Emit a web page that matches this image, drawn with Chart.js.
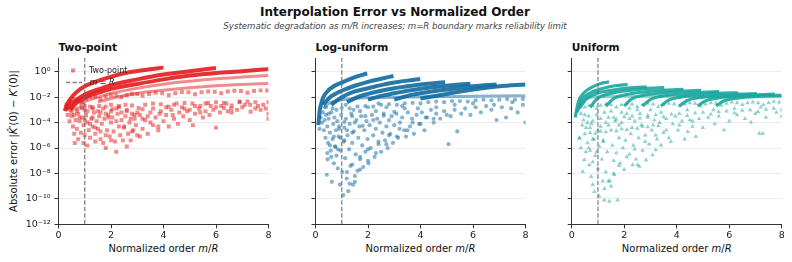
<!DOCTYPE html>
<html>
<head>
<meta charset="utf-8">
<script src="https://cdn.jsdelivr.net/npm/chart.js@4.4.1/dist/chart.umd.min.js"></script>
<style>
  body { margin: 0; background: #fff; font-family: "DejaVu Sans", sans-serif; }
  #wrap { position: relative; width: 792px; height: 262px; overflow: hidden; background: #fff; }
  canvas { position: absolute; left: 0; top: 0; }
  .txt { position: absolute; white-space: nowrap; color: #111; line-height: 1; }
  #title { left: 395px; top: 6px; transform: translateX(-50%); font-weight: bold; font-size: 12px; }
  #subtitle { left: 395px; top: 22px; transform: translateX(-50%); font-style: italic; font-size: 8.6px; color: #444; }
  .ptitle { top: 42px; font-weight: bold; font-size: 10.6px; }
  .xlab { top: 244px; transform: translateX(-50%); font-size: 10px; }
  #ylab { left: 14px; top: 141px; transform: translate(-50%, -50%) rotate(-90deg); font-size: 10px; }
</style>
</head>
<body>
<div id="wrap">
  <div class="txt" id="title">Interpolation Error vs Normalized Order</div>
  <div class="txt" id="subtitle">Systematic degradation as m/R increases; m=R boundary marks reliability limit</div>
  <div class="txt ptitle" id="pt0" style="left:58.5px"></div>
  <div class="txt ptitle" id="pt1" style="left:315.5px"></div>
  <div class="txt ptitle" id="pt2" style="left:571.7px"></div>
  <div class="txt xlab" style="left:163.5px">Normalized order <i>m</i>/<i>R</i></div>
  <div class="txt xlab" style="left:420.5px">Normalized order <i>m</i>/<i>R</i></div>
  <div class="txt xlab" style="left:676.7px">Normalized order <i>m</i>/<i>R</i></div>
  <div class="txt" id="ylab">Absolute error |<i>K&#770;</i>&#8242;(0) &#8722; <i>K</i>&#8242;(0)|</div>
  <canvas id="c0" width="792" height="262"></canvas>
  <canvas id="c1" width="792" height="262"></canvas>
  <canvas id="c2" width="792" height="262"></canvas>
</div>
<script>
const panelTitles = ['Two-point', 'Log-uniform', 'Uniform'];
const xTicks = [0, 2, 4, 6, 8];
const yTicks = [1e-12, 1e-10, 1e-8, 1e-6, 1e-4, 1e-2, 1];
const yTickLabels = ['10⁻¹²', '10⁻¹⁰', '10⁻⁸', '10⁻⁶', '10⁻⁴', '10⁻²', '10⁰'];
const boundaryX = 1; // m = R
const yMin = 1e-12;
const yMax = 12;

// ---- Two-point ----
const twoPointArcs = [
    [[0.24,7.9e-4],[0.3,2e-3],[0.4,5e-3],[0.55,1.3e-2],[0.75,3.2e-2],[1.0,7.1e-2],[1.4,0.16],[2.0,0.4],[2.5,0.76],[3.2,1.3],[4.0,2.1]],
    [[0.3,1e-3],[0.4,2e-3],[0.6,4.5e-3],[1.0,1.6e-2],[1.5,4e-2],[2.0,8.9e-2],[3.0,0.25],[4.0,0.6],[5.0,1.1],[6.0,2.0]],
    [[0.45,1e-3],[0.6,2.5e-3],[1.0,8.9e-3],[1.5,2.2e-2],[2.0,4.5e-2],[3.0,0.11],[4.0,0.25],[5.0,0.5],[6.0,0.8],[7.0,1.1],[8.0,1.6]]
];
const twoPointBands = [
    [[0.8,2.5e-3],[1.0,4.5e-3],[1.5,1e-2],[2.0,2e-2],[3.0,5e-2],[4.0,0.105],[5.0,0.18],[6.0,0.28],[7.0,0.38],[8.0,0.5]],
    [[1.5,4e-3],[2.0,7.9e-3],[3.0,2e-2],[4.0,3.5e-2],[5.0,5.6e-2],[6.0,7.9e-2],[7.0,0.1],[8.0,0.12]]
];
const twoPointRows = [
    [0.3,2.5e-3],[0.45,5e-3],[0.6,7.1e-3],[0.75,6.3e-3],[0.9,4e-3],[1.05,7.9e-3],[1.2,1.1e-2],[1.4,1.1e-2],[1.6,7.1e-3],[1.8,1.1e-2],
    [2.0,1.4e-2],[2.2,1.4e-2],[2.4,1e-2],[2.6,1.4e-2],[2.8,1.8e-2],[3.0,1.8e-2],[3.2,1.3e-2],[3.45,1.8e-2],[3.7,2.2e-2],[3.95,2e-2],
    [4.2,1.4e-2],[4.45,2e-2],[4.7,2.5e-2],[4.95,2.4e-2],[5.2,1.7e-2],[5.45,2.4e-2],[5.7,2.8e-2],[5.95,2.7e-2],[6.2,2e-2],[6.45,2.75e-2],
    [6.7,3.2e-2],[6.95,3e-2],[7.2,2.2e-2],[7.45,3e-2],[7.7,3.4e-2],[7.95,3.3e-2],
    [0.5,6.3e-4],[0.7,1.3e-3],[0.9,1.4e-3],[1.1,7.9e-4],[1.3,1.6e-3],[1.55,2e-3],[1.8,1.8e-3],[2.05,1.1e-3],[2.3,2e-3],[2.55,2.5e-3],
    [2.8,2.2e-3],[3.05,1.4e-3],[3.3,2.5e-3],[3.6,3.2e-3],[3.9,2.8e-3],[4.2,1.8e-3],[4.5,3.2e-3],[4.8,3.5e-3],[5.1,3.2e-3],[5.4,2e-3],
    [5.7,3.5e-3],[6.0,4e-3],[6.3,3.5e-3],[6.6,2.2e-3],[6.9,4e-3],[7.2,4.5e-3],[7.5,4e-3],[7.8,2.5e-3],[8.0,4e-3]
];
const twoPointScatter = [
    [0.35,4e-4],[0.42,1.26e-4],[0.5,3.2e-4],[0.55,5e-5],[0.62,2.5e-6],[0.65,1.6e-4],[0.7,3.2e-5],[0.75,5e-4],[0.8,1.3e-4],[0.85,1.6e-5],
    [0.9,2.5e-4],[0.95,6.3e-5],[1.0,1e-5],[1.05,4e-4],[1.1,1e-4],[1.15,2.5e-5],[1.2,6.3e-6],[1.25,2e-4],[1.3,5e-5],[1.35,6.3e-4],
    [1.4,1.3e-5],[1.45,1.3e-4],[1.5,3.2e-5],[1.55,3.2e-4],[1.6,5e-6],[1.65,7.9e-5],[1.7,2.5e-6],[1.75,2e-4],[1.8,1e-6],[1.85,2.5e-5],
    [1.9,4e-4],[1.95,7.9e-6],[2.0,1e-4],[2.05,2.5e-4],[2.1,2e-5],[2.15,3.2e-6],[2.2,5e-7],[2.25,5e-4],[2.3,5e-5],[2.35,1e-5],
    [2.4,1.6e-4],[2.45,4e-6],[2.5,4e-5],[2.55,3.2e-4],[2.6,1.3e-6],[2.65,1.3e-5],[2.7,1e-4],[2.75,4e-6],[2.8,5e-4],[2.85,2.5e-5],
    [2.9,2e-4],[2.95,6.3e-5],[3.0,1e-5],[3.1,4e-4],[3.2,3.2e-5],[3.3,1.6e-4],[3.4,1.3e-5],[3.5,6.3e-4],[3.6,6.3e-5],[3.7,2.5e-4],
    [3.8,2.5e-5],[3.9,7.9e-4],[4.0,1.3e-4],[4.1,4e-4],[4.2,5e-5],[4.3,1e-3],[4.4,2e-4],[4.55,7.9e-5],[4.6,6.3e-4],[4.75,3.2e-4],
    [4.9,7.9e-4],[5.0,1.6e-4],[5.12,6.3e-5],[5.2,5e-4],[5.35,1.3e-3],[5.5,2.5e-4],[5.6,7.9e-4],[5.75,4e-4],[5.9,1e-3],[6.0,4e-5],
    [6.15,6.3e-4],[6.3,1.4e-3],[6.45,7.9e-4],[6.58,1.3e-3],[6.8,1e-3],[7.0,1.6e-3],[7.32,7.2e-4],[7.5,1.3e-3],[7.7,1e-3],[8.0,5e-4],
    [8.0,2e-4],[0.55,1.3e-3],[0.7,7.9e-4],[0.85,1.6e-3],[1.0,1e-3],[1.2,1.8e-3],[1.3,2.5e-4],[1.5,7.9e-4],[1.7,1.3e-3],[1.8,5e-4],
    [2.0,7.9e-4],[2.2,1.3e-3],[2.4,6.3e-4],[2.6,1e-3],[2.75,2e-4],[3.0,6.3e-4],[3.2,1.1e-3],[3.4,3.2e-4],[3.6,1.3e-3],[3.85,5e-4],
    [4.1,1.6e-3],[4.35,4e-4],[4.7,1.6e-3],[5.0,1e-3],[5.4,6.3e-4],[5.8,2e-3],[6.2,2e-3],[6.6,6.3e-4],[7.1,2.5e-3],[7.6,2e-3],[7.9,1.3e-3],
    [0.6,4e-4],[0.8,2.5e-4],[1.0,1.6e-4],[1.2,7.9e-5],[1.4,4e-5],[1.6,2e-5],[1.8,1e-5],[2.0,4e-6],
    [1.0,2e-3],[1.3,1.3e-3],[1.6,6.3e-4],[1.9,2.5e-4],[2.2,1.3e-4],[2.5,5e-5],[2.8,2e-5],[3.1,7.9e-6],
    [2.0,2.5e-3],[2.3,1.6e-3],[2.6,7.9e-4],[2.9,4e-4],[3.2,2e-4],[3.5,1e-4],[3.8,5e-5],
    [0.45,1e-3],[0.6,1.3e-5],[0.75,5e-6],[0.95,2.5e-6],[1.1,1.6e-6],[1.4,3.2e-6],
    [4.4,2.5e-3],[4.8,1.3e-3],[5.2,2e-3],[5.6,3.2e-3],[6.0,1.6e-3],[6.4,3.2e-3],[6.9,4.5e-3],[7.3,2.5e-3]
];

// ---- Log-uniform ----
const logUniformArcs = [
    [[0.11,6.3e-5],[0.15,6.3e-4],[0.22,3.2e-3],[0.3,1e-2],[0.45,2.8e-2],[0.65,6.3e-2],[1.0,0.14],[1.4,0.32],[1.97,0.74]],
    [[0.3,2.5e-3],[0.5,7.9e-3],[0.75,1.8e-2],[1.0,3.2e-2],[1.5,7.9e-2],[2.0,0.16],[2.5,0.28],[2.97,0.46]],
    [[0.6,2.5e-3],[1.0,1e-2],[1.5,2.8e-2],[2.0,5e-2],[2.5,8.9e-2],[3.0,0.14],[3.5,0.2],[3.99,0.27]],
    [[1.2,4e-3],[1.6,1e-2],[2.0,1.8e-2],[2.5,3.2e-2],[3.0,5e-2],[3.5,7.1e-2],[4.0,0.1],[4.5,0.126],[4.94,0.15]],
    [[2.0,6.3e-3],[2.5,1.26e-2],[3.0,2e-2],[3.5,3.2e-2],[4.0,4.5e-2],[4.5,6.3e-2],[5.0,7.9e-2],[5.5,0.1],[5.9,0.11]],
    [[3.0,6.3e-3],[3.5,1.26e-2],[4.0,2e-2],[5.0,4e-2],[6.0,7.1e-2],[6.9,0.1]],
    [[4.0,7.9e-3],[5.0,1.8e-2],[6.0,4e-2],[7.0,7.1e-2],[8.0,0.1]]
];
const logUniformBands = [
    [[0.3,1.3e-3],[0.5,3.2e-3],[1.0,6.3e-3],[1.5,7.9e-3],[2.0,8.9e-3],[3.0,1e-2],[4.0,1.05e-2],[5.0,1.1e-2],[6.0,1.2e-2],[7.0,1.26e-2],[8.0,1.3e-2]]
];
const logUniformRows = [
    [0.5,5e-4],[0.8,1e-3],[1.0,1.4e-3],[1.3,1.3e-3],[1.6,1.8e-3],[1.9,2e-3],[2.2,1.8e-3],[2.5,2.5e-3],[2.8,2.8e-3],[3.1,2.5e-3],
    [3.4,3.2e-3],[3.7,3.5e-3],[4.0,3.2e-3],[4.3,4e-3],[4.6,4.5e-3],[4.9,4e-3],[5.2,5e-3],[5.5,5e-3],[5.8,4.5e-3],[6.1,5.6e-3],
    [6.4,6.3e-3],[6.7,5.6e-3],[7.0,6.3e-3],[7.3,7.1e-3],[7.6,6.3e-3],[7.9,7.1e-3]
];
const logUniformScatter = [
    [0.15,3.2e-5],[0.2,2.5e-4],[0.25,1e-4],[0.28,6.3e-4],[0.32,2.5e-5],[0.35,1.6e-4],[0.38,6.3e-6],[0.4,4e-4],[0.43,7.9e-9],[0.45,5e-5],
    [0.46,1.3e-7],[0.48,2.5e-6],[0.5,2e-4],[0.55,1.6e-5],[0.58,6.3e-7],[0.6,6.3e-4],[0.62,2.2e-9],[0.65,5e-6],[0.68,7.9e-5],[0.7,6.3e-8],
    [0.72,2.5e-4],[0.75,1.3e-6],[0.78,2.5e-5],[0.8,2.5e-7],[0.83,1.3e-4],[0.85,2.5e-8],[0.88,7.9e-6],[0.9,5e-5],[0.93,1.3e-9],[0.95,6.3e-7],
    [0.98,4e-4],[1.02,1.3e-8],[1.06,2e-10],[1.08,3.2e-6],[1.1,4e-5],[1.13,1.6e-7],[1.16,2e-4],[1.19,4e-9],[1.22,1e-5],[1.25,4e-10],
    [1.28,7.9e-7],[1.3,7.9e-5],[1.33,4e-8],[1.36,5e-4],[1.4,2.5e-6],[1.43,1.3e-9],[1.46,2e-5],[1.5,2.2e-9],[1.53,3.2e-7],[1.56,1.6e-4],
    [1.6,1.6e-8],[1.63,6.3e-6],[1.67,5e-5],[1.7,1.3e-7],[1.74,3.2e-4],[1.78,1.6e-6],[1.82,3.2e-8],[1.86,2.5e-5],[1.9,5e-7],[1.94,1.3e-4],
    [1.98,5e-6],[2.02,6.3e-8],[2.06,6.3e-5],[2.1,1e-6],[2.15,4e-4],[2.2,1e-5],[2.25,2e-7],[2.3,3.2e-5],[2.35,2e-4],[2.4,2e-6],
    [2.45,1e-4],[2.5,5e-7],[2.55,1.6e-5],[2.6,5e-4],[2.65,4e-6],[2.7,5e-5],[2.75,1e-6],[2.8,1.6e-4],[2.85,1.3e-5],[2.9,3.2e-4],
    [2.95,2.5e-6],[3.0,6.3e-5],[3.08,5e-4],[3.15,6.3e-6],[3.22,1e-4],[3.3,2.5e-4],[3.38,2.5e-5],[3.45,7.9e-6],[3.52,6.3e-4],[3.6,5e-5],
    [3.68,2e-4],[3.75,1.3e-5],[3.85,4e-4],[3.95,7.9e-5],[4.05,6.3e-4],[4.15,2.5e-5],[4.25,2.5e-4],[4.4,1e-3],[4.5,1e-4],[4.6,5e-4],
    [4.75,2e-4],[4.9,7.9e-4],[5.07,2e-6],[5.15,3.2e-4],[5.3,1e-3],[5.4,2e-5],[5.55,5e-4],[5.7,1.3e-3],[5.9,4e-4],[6.1,1.6e-3],
    [6.3,6.3e-4],[6.5,2e-3],[6.7,1e-3],[6.9,1.6e-4],[7.1,1.6e-3],[7.26,2.5e-4],[7.45,1.3e-3],[7.7,6.3e-4],[7.9,2.5e-3],[8.0,1e-4],
    [3.4,1.3e-3],[3.0,7.1e-4],[2.6,3.5e-4],[2.2,1.6e-4],[1.8,5.6e-5],[1.4,1.6e-5],[1.1,4e-6],[0.85,7.9e-7],
    [2.7,1.6e-3],[2.3,7.9e-4],[1.9,3.2e-4],[1.5,1e-4],[1.2,2.5e-5],[0.95,6.3e-6],[0.75,1.3e-6],[0.6,2e-7],
    [4.2,2.5e-4],[3.7,1e-4],[3.2,3.2e-5],[2.8,1e-5],[2.4,3.2e-6],[2.0,7.9e-7],[1.7,2e-7],[1.4,5e-8],[1.2,1.3e-8],
    [2.0,1.6e-3],[1.7,7.9e-4],[1.4,3.2e-4],[1.1,1.1e-4],[0.9,3.2e-5],[0.7,7.9e-6],[0.55,1.6e-6],[0.45,4e-7],
    [5.0,4e-4],[4.5,2e-4],[4.0,7.9e-5],[3.5,2.5e-5],[3.1,7.9e-6],[2.7,2e-6],[2.3,4e-7],[2.0,1e-7],[1.7,2e-8],[1.5,6.3e-9],[1.3,1.6e-9],
    [0.4,1.6e-3],[0.65,1.3e-3],[1.15,2.5e-3],[1.45,1e-3],[2.4,3.2e-3],[3.3,2e-3],[3.9,1.3e-3],[4.6,1.6e-3],[5.3,2.5e-3],[6.0,3.2e-3],
    [6.8,2.5e-3],[7.5,4e-3]
];

// ---- Uniform ----
const uniformArcs = [
    [[0.13,2.5e-4],[0.26,4.6e-3],[0.45,2e-2],[0.78,6.2e-2],[1.1,0.12],[1.42,0.16]],
    [[0.2,6.3e-4],[0.39,6.2e-3],[0.68,2e-2],[1.17,4.8e-2],[1.65,7.9e-2],[2.13,0.1]],
    [[0.3,1.3e-3],[0.56,7.4e-3],[0.94,1.9e-2],[1.58,3.6e-2],[2.22,5.4e-2],[2.86,6.6e-2]],
    [[0.7,1.6e-3],[0.98,7.9e-3],[1.41,1.8e-2],[2.12,3.3e-2],[2.82,4.7e-2],[3.53,5.6e-2]],
    [[1.3,2e-3],[1.6,7.8e-3],[2.04,1.55e-2],[2.78,2.6e-2],[3.52,3.5e-2],[4.26,4.1e-2]],
    [[2.0,2e-3],[2.29,7.2e-3],[2.73,1.4e-2],[3.47,2.2e-2],[4.2,3e-2],[4.93,3.5e-2]],
    [[2.7,2e-3],[2.99,6.5e-3],[3.43,1.2e-2],[4.16,1.8e-2],[4.89,2.3e-2],[5.62,2.7e-2]],
    [[3.4,2e-3],[3.69,5.9e-3],[4.13,1e-2],[4.87,1.55e-2],[5.6,2e-2],[6.33,2.2e-2]],
    [[4.1,2e-3],[4.4,5.5e-3],[4.84,9.1e-3],[5.58,1.3e-2],[6.31,1.7e-2],[7.05,1.9e-2]],
    [[4.8,2e-3],[5.09,5.1e-3],[5.53,8.5e-3],[6.27,1.2e-2],[7.0,1.5e-2],[7.74,1.7e-2]],
    [[5.5,2e-3],[5.79,5e-3],[6.2,7.9e-3],[6.9,1.1e-2],[7.5,1.3e-2],[8.0,1.4e-2]]
];
const uniformBands = [
    [[0.3,2.5e-3],[0.6,7.9e-3],[1.0,1.1e-2],[2.0,1.2e-2],[3.0,1.2e-2],[4.0,1.17e-2],[5.0,1.1e-2],[6.0,1.1e-2],[7.0,1.07e-2],[8.0,1.07e-2]]
];
const uniformRows = [
    [0.35,5e-4],[0.5,1.6e-3],[0.65,2.2e-3],[0.8,2e-3],[0.95,1.3e-3],[1.1,2.2e-3],[1.3,2.8e-3],[1.5,2.5e-3],[1.7,1.6e-3],[1.9,2.5e-3],
    [2.1,3.2e-3],[2.3,2.8e-3],[2.5,1.8e-3],[2.7,2.5e-3],[2.9,3.2e-3],[3.1,2.8e-3],[3.3,1.8e-3],[3.5,2.5e-3],[3.7,3.2e-3],[3.9,2.8e-3],
    [4.1,2e-3],[4.3,2.8e-3],[4.5,3.5e-3],[4.7,3.2e-3],[4.9,2e-3],[5.1,2.8e-3],[5.3,3.5e-3],[5.5,3.2e-3],[5.7,2.2e-3],[5.9,3.2e-3],
    [6.1,4e-3],[6.3,3.5e-3],[6.5,2.5e-3],[6.7,3.5e-3],[6.9,4e-3],[7.1,3.5e-3],[7.3,2.5e-3],[7.5,3.5e-3],[7.7,4.5e-3],[7.9,4e-3],
    [0.8,1.3e-4],[1.1,2e-4],[1.4,2.5e-4],[1.7,1.8e-4],[2.0,2.8e-4],[2.3,3.2e-4],[2.6,2.2e-4],[2.9,3.5e-4],[3.2,4e-4],[3.5,2.8e-4],
    [3.8,4.5e-4],[4.1,5e-4],[4.4,3.5e-4],[4.7,5.6e-4],[5.0,6.3e-4],[5.3,4.5e-4],[5.6,7.1e-4],[5.9,7.9e-4],[6.2,5.6e-4],[6.5,8.9e-4],
    [6.8,1e-3],[7.1,7.1e-4],[7.4,1.1e-3],[7.7,1.3e-3],[8.0,1e-3],
    [0.3,6.3e-6],[0.5,1.3e-5],[0.7,1.6e-5],[0.9,1.4e-5],[1.1,2e-5],[1.3,1.8e-5],[1.5,2.5e-5],[1.7,2.2e-5],[1.9,3.2e-5],[2.1,2.8e-5],
    [2.3,4e-5],[2.5,3.5e-5],[2.7,5e-5],[2.9,4.5e-5],[3.1,6.3e-5],[3.3,5.6e-5]
];
const uniformScatter = [
    [0.29,5.8e-6],[0.35,1e-6],[0.42,1.4e-8],[0.48,1.15e-7],[0.54,5e-7],[0.67,4.6e-8],[0.74,5.6e-9],[0.8,1.3e-9],[0.86,3.7e-10],[1.05,1.6e-10],
    [1.24,7.9e-11],[1.43,6.3e-11],[1.75,7.9e-11],[1.5,1e-9],[1.18,2.5e-9],[1.62,7.9e-9],[2.0,2e-8],[2.32,4.7e-8],[2.51,4.7e-8],[2.83,1.15e-7],
    [3.2,7.1e-7],[3.4,1.7e-6],[3.78,3.2e-6],[3.08,2.8e-7],[2.58,3.5e-8],[4.73,7.8e-6],[4.42,1.9e-5],[5.8,2.6e-5],[6.83,1.05e-4],[7.15,1.4e-5],
    [7.28,1.4e-5],[0.4,6.3e-5],[0.45,1.6e-4],[0.55,4e-5],[0.6,2.5e-6],[0.65,3.2e-4],[0.7,6.3e-7],[0.75,7.9e-5],[0.85,5e-6],[0.9,2.5e-7],
    [0.95,4e-4],[1.0,2.5e-8],[1.05,1.3e-6],[1.1,5e-5],[1.15,1.3e-7],[1.2,4e-6],[1.25,6.3e-4],[1.3,1.3e-8],[1.35,5e-7],[1.4,6.3e-5],
    [1.45,2.5e-9],[1.55,1.6e-6],[1.6,1e-7],[1.65,1.3e-4],[1.7,4e-7],[1.8,6.3e-6],[1.85,6.3e-8],[1.9,1e-4],[1.95,1e-6],[2.05,4e-6],
    [2.1,5e-4],[2.2,3.2e-7],[2.25,1.3e-5],[2.35,1.6e-6],[2.4,1.3e-4],[2.45,1.3e-7],[2.55,6.3e-6],[2.65,6.3e-5],[2.7,6.3e-7],[2.8,1e-5],
    [2.9,2.5e-4],[2.95,2e-6],[3.05,2.5e-5],[3.15,1.6e-4],[3.25,5e-6],[3.35,1e-4],[3.5,1.6e-5],[3.6,2e-4],[3.7,6.3e-6],[3.85,7.9e-5],
    [3.95,3.2e-4],[4.05,2.5e-5],[4.2,1.3e-4],[4.3,5e-6],[4.5,1.6e-4],[4.6,5e-5],[4.85,2e-4],[5.0,4e-5],[5.2,2.5e-4],[5.45,7.9e-5],
    [5.6,3.2e-4],[6.0,1.3e-4],[6.3,4e-4],[6.6,2e-4],[7.0,5e-4],[7.4,2.5e-4],[7.8,6.3e-4],[8.0,3.2e-4],
    [3.0,1e-3],[2.6,5e-4],[2.2,2e-4],[1.8,6.3e-5],[1.2,3.2e-6],[0.95,5e-7],[0.8,7.9e-8],
    [2.2,1.3e-3],[1.9,6.3e-4],[1.6,2.5e-4],[1.3,1e-4],[1.0,2.5e-5],[0.8,5e-6],[0.65,1e-6],
    [4.6,1.3e-4],[4.1,6.3e-5],[3.6,2.5e-5],[3.2,1e-5],[2.8,3.2e-6],[2.4,7.9e-7],[2.1,2e-7],[1.8,4e-8],[1.6,1e-8],[1.4,2.5e-9],[1.25,6.3e-10],
    [0.5,4e-4],[0.6,1e-4],[0.7,4e-5],[1.5,7.9e-4],[2.5,1e-3],[3.4,6.3e-4],[4.4,1e-3],[5.4,1e-3],[6.2,1.3e-3],[7.2,1.6e-3]
];

const panelColors = ['227,26,28', '14,106,160', '26,166,158'];
const panelMarkers = ['rect', 'circle', 'triangle'];
const panelRadius = [2.8, 2.1, 2.6];
const arcWidth = [4, 4, 3.2];
const panelLeft = [58.5, 315.5, 571.7];
const plotWidth = 210;
const plotTop = 58;
const plotBottom = 224.3;

Chart.defaults.font.family = '"DejaVu Sans", sans-serif';
Chart.defaults.color = '#222';

function toXY(arr) {
    return arr.map(p => ({ x: p[0], y: p[1] }));
}

const panelLegend = {
    id: 'panelLegend',
    afterDatasetsDraw(chart, args, opts) {
        if (!opts.show) return;
        const ctx = chart.ctx;
        const a = chart.chartArea;
        ctx.save();
        ctx.fillStyle = 'rgba(' + opts.color + ',0.55)';
        ctx.fillRect(a.left + 12.5, a.top + 10.5, 4, 4);
        ctx.fillStyle = '#222';
        ctx.textBaseline = 'middle';
        ctx.font = '8px "DejaVu Sans"';
        ctx.fillText(opts.label, a.left + 30.5, a.top + 12.5);
        ctx.strokeStyle = 'rgba(110,110,110,0.85)';
        ctx.lineWidth = 1.3;
        ctx.setLineDash([4.5, 2]);
        ctx.beginPath();
        ctx.moveTo(a.left + 7.5, a.top + 24.5);
        ctx.lineTo(a.left + 23.5, a.top + 24.5);
        ctx.stroke();
        ctx.setLineDash([]);
        let x = a.left + 31;
        const y = a.top + 24.5;
        ctx.font = 'italic 8px "DejaVu Sans"';
        ctx.fillText('m', x, y);
        x += ctx.measureText('m').width;
        ctx.font = '8px "DejaVu Sans"';
        ctx.fillText(' = ', x, y);
        x += ctx.measureText(' = ').width;
        ctx.font = 'italic 8px "DejaVu Sans"';
        ctx.fillText('R', x, y);
        ctx.restore();
    }
};

function makePanel(i, arcs, bands, rows, scatter) {
    const col = panelColors[i];
    const marker = panelMarkers[i];
    const rad = panelRadius[i];
    const datasets = [{
        data: [{ x: boundaryX, y: yMin }, { x: boundaryX, y: yMax }],
        showLine: true,
        borderColor: 'rgba(110,110,110,0.85)',
        borderWidth: 1.3,
        borderDash: [4.5, 2],
        pointRadius: 0
    }];
    arcs.forEach(a => datasets.push({
        data: toXY(a),
        showLine: true,
        borderColor: 'rgba(' + col + ',0.9)',
        borderWidth: arcWidth[i],
        cubicInterpolationMode: 'monotone',
        pointRadius: 0
    }));
    bands.forEach(b => datasets.push({
        data: toXY(b),
        showLine: true,
        borderColor: 'rgba(' + col + ',0.5)',
        borderWidth: 3,
        cubicInterpolationMode: 'monotone',
        pointRadius: 0
    }));
    [rows, scatter].forEach(d => datasets.push({
        data: toXY(d),
        showLine: false,
        pointStyle: marker,
        pointRadius: rad,
        pointBorderWidth: 0,
        pointBackgroundColor: 'rgba(' + col + ',0.5)'
    }));

    document.getElementById('pt' + i).textContent = panelTitles[i];
    const left = panelLeft[i];
    new Chart(document.getElementById('c' + i), {
        type: 'scatter',
        data: { datasets: datasets },
        options: {
            responsive: false,
            animation: false,
            events: [],
            layout: {
                padding: { left: left - 40, right: 792 - left - plotWidth, top: plotTop, bottom: 262 - plotBottom - 20 }
            },
            scales: {
                x: {
                    type: 'linear',
                    min: 0,
                    max: 8,
                    afterBuildTicks: s => { s.ticks = xTicks.map(v => ({ value: v })); },
                    afterFit: s => { s.height = 20; s.paddingLeft = 0; s.paddingRight = 0; },
                    ticks: { font: { size: 9.5 }, color: '#222', padding: 2, maxRotation: 0 },
                    grid: { drawOnChartArea: false, tickLength: 4, tickColor: '#333' },
                    border: { color: '#333', width: 1 }
                },
                y: {
                    type: 'logarithmic',
                    min: yMin,
                    max: yMax,
                    afterBuildTicks: s => { s.ticks = yTicks.map(v => ({ value: v })); },
                    afterFit: s => { s.width = 40; s.paddingTop = 0; s.paddingBottom = 0; },
                    ticks: {
                        font: { size: 9.5 },
                        color: '#222',
                        padding: 4,
                        callback: (v, idx) => i === 0 ? yTickLabels[idx] : ''
                    },
                    grid: { color: 'rgba(0,0,0,0.07)', tickLength: 4, tickColor: '#333' },
                    border: { color: '#333', width: 1 }
                }
            },
            plugins: {
                legend: { display: false },
                tooltip: { enabled: false },
                panelLegend: { show: i === 0, label: panelTitles[0], color: col }
            }
        },
        plugins: [panelLegend]
    });
}

makePanel(0, twoPointArcs, twoPointBands, twoPointRows, twoPointScatter);
makePanel(1, logUniformArcs, logUniformBands, logUniformRows, logUniformScatter);
makePanel(2, uniformArcs, uniformBands, uniformRows, uniformScatter);
</script>
</body>
</html>
